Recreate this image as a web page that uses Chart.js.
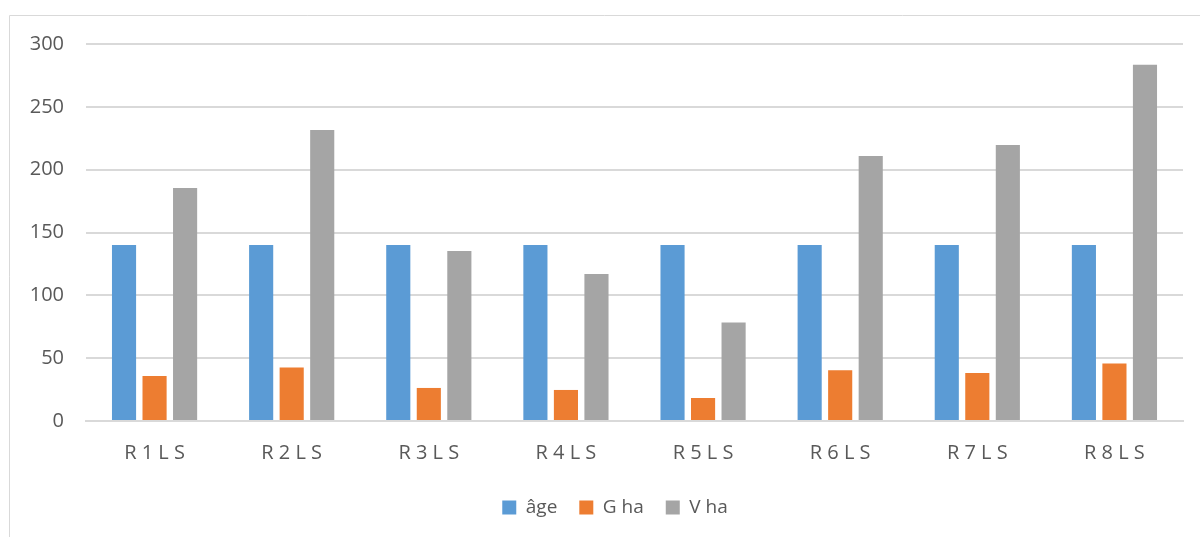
<!DOCTYPE html>
<html><head><meta charset="utf-8">
<script src="https://cdn.jsdelivr.net/npm/chart.js@4/dist/chart.umd.min.js"></script>
<style>html,body{margin:0;padding:0;background:#fff}#w{width:1200px;height:537px;position:relative}</style>
</head><body><div id="w"><canvas id="c" width="1200" height="537"></canvas></div>
<script>
const categories = ["R 1 L S","R 2 L S","R 3 L S","R 4 L S","R 5 L S","R 6 L S","R 7 L S","R 8 L S"];
const ageValues = [140,140,140,140,140,140,140,140];
const gHaValues = [35.8,42.5,26.3,24.7,18.3,40.4,38.2,45.7];
const vHaValues = [185.4,231.5,135.2,117,78.3,210.8,219.6,283.4];
const yTicks = [0,50,100,150,200,250,300];

const frame = {
  id:'frame',
  afterLayout(chart){
    const lg = chart.legend;
    if (lg) { lg.left = 47; lg.right = 1183; lg.width = lg.right - lg.left; }
  },
  beforeDraw(chart){
    const ctx = chart.ctx;
    ctx.save();
    ctx.strokeStyle = '#D9D9D9';
    ctx.lineWidth = 1;
    ctx.beginPath();
    ctx.moveTo(9.5, 540);
    ctx.lineTo(9.5, 15.5);
    ctx.lineTo(1200, 15.5);
    ctx.stroke();
    ctx.restore();
  }
};

Chart.defaults.font.family = "'Open Sans', 'Noto Sans', sans-serif";
Chart.defaults.color = '#595959';

new Chart(document.getElementById('c'), {
  type: 'bar',
  data: {
    labels: categories,
    datasets: [
      {label:'âge', data: ageValues, backgroundColor:'#5B9BD5'},
      {label:'G ha', data: gHaValues, backgroundColor:'#ED7D31'},
      {label:'V ha', data: vHaValues, backgroundColor:'#A5A5A5'}
    ]
  },
  options: {
    responsive:false,
    animation:false,
    devicePixelRatio:1,
    categoryPercentage:0.668,
    barPercentage:0.79,
    layout:{padding:{left:10,right:17,top:44,bottom:10}},
    plugins:{
      legend:{
        position:'bottom',
        labels:{boxWidth:14,boxHeight:14,padding:22,font:{size:19},color:'#595959'}
      },
      tooltip:{enabled:false}
    },
    scales:{
      x:{
        grid:{display:false},
        border:{display:true,color:'#D9D9D9',width:2},
        ticks:{font:{size:20},padding:12,color:'#595959'},
        afterFit(s){ s.height = 55; }
      },
      y:{
        min:0,max:300,
        afterBuildTicks(s){ s.ticks = yTicks.map(v=>({value:v})); },
        grid:{color:'#D9D9D9',lineWidth:2,drawTicks:false},
        border:{display:false},
        ticks:{font:{size:20},padding:22,color:'#595959'},
        afterFit(s){ s.width = 76; }
      }
    }
  },
  plugins:[frame]
});
</script></body></html>
